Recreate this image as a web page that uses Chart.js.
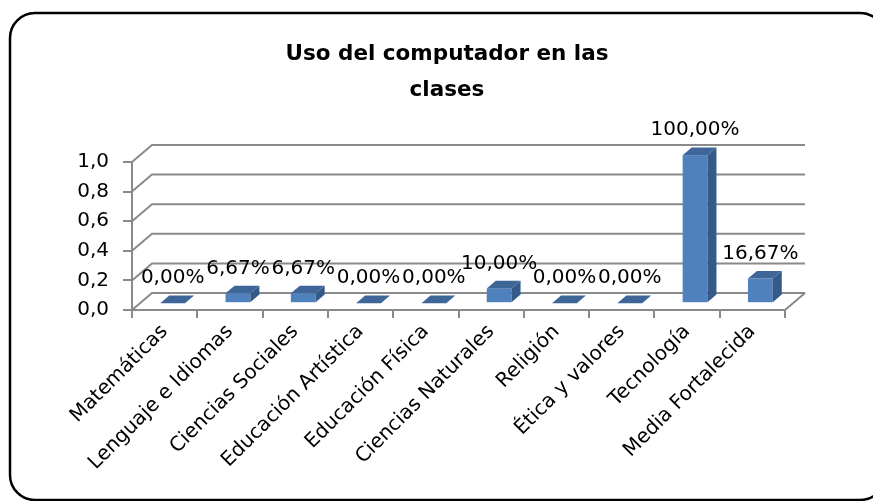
<!DOCTYPE html>
<html>
<head>
<meta charset="utf-8">
<script src="https://cdn.jsdelivr.net/npm/chart.js@4/dist/chart.umd.min.js"></script>
<style>
  html, body { margin: 0; padding: 0; background: #fff; }
  #wrap { width: 873px; height: 501px; }
</style>
</head>
<body>
<div id="wrap"><canvas id="chart" width="873" height="501"></canvas></div>
<script>
const titleLines = ['Uso del computador en las', 'clases'];
const categories = ['Matemáticas', 'Lenguaje e Idiomas', 'Ciencias Sociales', 'Educación Artística',
    'Educación Física', 'Ciencias Naturales', 'Religión', 'Ética y valores', 'Tecnología', 'Media Fortalecida'];
const values = [0, 0.0667, 0.0667, 0, 0, 0.1, 0, 0, 1, 0.1667];

// depth of the 3D floor / wall
const DX = 20;
const DY = -17;
const FONT = 'DejaVu Sans';

const fmtPct = v => (v * 100).toFixed(2).replace('.', ',') + '%';

const frame3d = {
    id: 'frame3d',
    afterLayout(chart) {
        // title is centred on the whole frame, not on the padded area
        if (chart.titleBlock) {
            chart.titleBlock.left = 21;
            chart.titleBlock.right = 873;
        }
    },
    beforeDraw(chart) {
        const ctx = chart.ctx;
        ctx.save();
        ctx.fillStyle = '#fff';
        ctx.fillRect(0, 0, chart.width, chart.height);
        ctx.strokeStyle = '#000';
        ctx.lineWidth = 2.5;
        ctx.beginPath();
        ctx.roundRect(10, 13, 875, 487, 25);
        ctx.stroke();
        ctx.restore();
    },
    beforeDatasetsDraw(chart) {
        const ctx = chart.ctx;
        const y = chart.scales.y;
        const {left, right, bottom} = chart.chartArea;
        ctx.save();
        ctx.strokeStyle = '#8a8a8a';
        ctx.lineWidth = 2;
        y.ticks.forEach(t => {
            const py = y.getPixelForValue(t.value);
            ctx.beginPath();
            ctx.moveTo(left, py);
            ctx.lineTo(left + DX, py + DY);
            ctx.lineTo(right + DX, py + DY);
            ctx.stroke();
        });
        ctx.beginPath();
        ctx.moveTo(right, bottom);
        ctx.lineTo(right + DX, bottom + DY);
        ctx.stroke();
        ctx.restore();
    },
    afterDatasetsDraw(chart) {
        const ctx = chart.ctx;
        const meta = chart.getDatasetMeta(0);
        const fx = DX * 0.4, fy = DY * 0.4;
        const bx = DX * 0.45, by = DY * 0.45;
        ctx.save();
        meta.data.forEach((el, i) => {
            const w = el.width;
            const x0 = el.x - w / 2 + fx;
            const x1 = el.x + w / 2 + fx;
            const yt = el.y + fy;
            const yb = el.base + fy;
            // front
            if (yb - yt > 0.5) {
                ctx.fillStyle = '#4f81bd';
                ctx.fillRect(x0, yt, w, yb - yt);
                // side
                ctx.fillStyle = '#355a88';
                ctx.beginPath();
                ctx.moveTo(x1, yb);
                ctx.lineTo(x1, yt);
                ctx.lineTo(x1 + bx, yt + by);
                ctx.lineTo(x1 + bx, yb + by);
                ctx.closePath();
                ctx.fill();
            }
            // top
            ctx.fillStyle = '#3e6698';
            ctx.beginPath();
            ctx.moveTo(x0, yt);
            ctx.lineTo(x1, yt);
            ctx.lineTo(x1 + bx, yt + by);
            ctx.lineTo(x0 + bx, yt + by);
            ctx.closePath();
            ctx.fill();

            // value label
            ctx.fillStyle = '#000';
            ctx.font = '20px "' + FONT + '"';
            ctx.textAlign = 'center';
            ctx.textBaseline = 'middle';
            ctx.fillText(fmtPct(values[i]), (x0 + x1) / 2, yt - 25);
        });
        ctx.restore();
    }
};

window.onload = () => {
    Chart.defaults.font.family = FONT;
    Chart.defaults.color = '#000';
    new Chart(document.getElementById('chart'), {
        type: 'bar',
        data: {
            labels: categories,
            datasets: [{
                data: values,
                backgroundColor: 'rgba(0,0,0,0)',
                borderWidth: 0,
                barPercentage: 0.38,
                categoryPercentage: 1
            }]
        },
        options: {
            responsive: false,
            animation: false,
            layout: { padding: { left: 0, right: 88, top: 36, bottom: 0 } },
            plugins: {
                legend: { display: false },
                tooltip: { enabled: false },
                title: {
                    display: true,
                    text: titleLines,
                    color: '#000',
                    font: { size: 21.5, weight: 'bold', lineHeight: 36 / 21.5 },
                    padding: { top: 0, bottom: 54 }
                }
            },
            scales: {
                x: {
                    grid: { drawOnChartArea: false, tickLength: 8, color: '#8a8a8a', lineWidth: 2 },
                    border: { color: '#8a8a8a', width: 2 },
                    ticks: { minRotation: 45, maxRotation: 45, padding: 2, font: { size: 20 } },
                    afterFit(scale) {
                        scale.height = 191;
                        scale.paddingLeft = 0;
                        scale.paddingRight = 0;
                    }
                },
                y: {
                    min: 0,
                    max: 1,
                    ticks: {
                        stepSize: 0.2,
                        padding: 14,
                        font: { size: 20 },
                        callback: v => v.toFixed(1).replace('.', ',')
                    },
                    grid: { drawOnChartArea: false, tickLength: 9, color: '#8a8a8a', lineWidth: 2 },
                    border: { color: '#8a8a8a', width: 2 },
                    afterFit(scale) {
                        scale.width = 132;
                    }
                }
            }
        },
        plugins: [frame3d]
    });
};
</script>
</body>
</html>
